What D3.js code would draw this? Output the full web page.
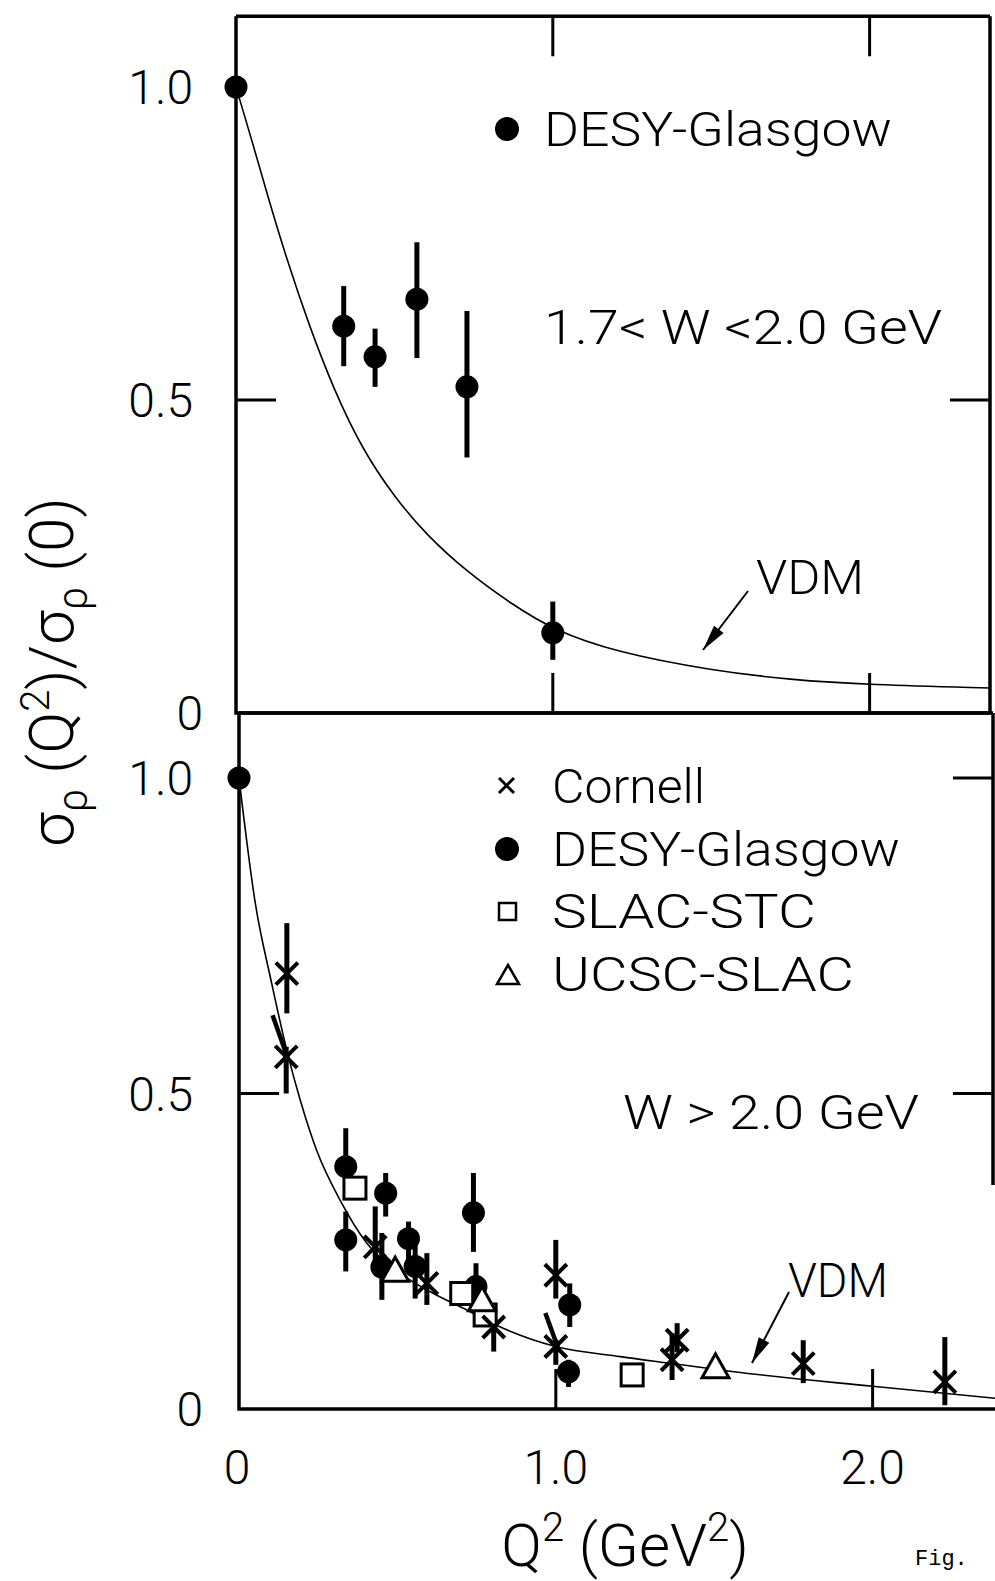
<!DOCTYPE html>
<html>
<head>
<meta charset="utf-8">
<script src="https://cdn.jsdelivr.net/npm/d3@7/dist/d3.min.js"></script>
<style>
  html, body { margin: 0; padding: 0; background: #fff; }
  svg text { font-family: "Roboto", "DejaVu Sans", sans-serif; font-weight: 300; fill: #000; }
</style>
</head>
<body>
<svg id="fig" width="995" height="1581"></svg>
<script>
// ---------- data ----------
// Upper panel: 1.7 < W < 2.0 GeV, DESY-Glasgow  [Q2, ratio, low, high]
const topDesy = [
  [0.00, 1.000, null, null],
  [0.340, 0.618, 0.554, 0.682],
  [0.439, 0.569, 0.521, 0.614],
  [0.571, 0.661, 0.567, 0.752],
  [0.729, 0.521, 0.408, 0.642],
  [1.000, 0.128, 0.085, 0.178]
];
// VDM prediction, upper panel  [Q2, ratio]
const topVdm = [
  [0.00, 1.000], [0.05, 0.915], [0.10, 0.826], [0.16, 0.725], [0.23, 0.620],
  [0.31, 0.515], [0.40, 0.420], [0.50, 0.345], [0.60, 0.285], [0.73, 0.225],
  [0.87, 0.174], [1.00, 0.133], [1.20, 0.097], [1.50, 0.068], [1.75, 0.053],
  [2.00, 0.045], [2.38, 0.040]
];

// Lower panel: W > 2.0 GeV
const cornell = [
  [0.151, 0.690, 0.627, 0.770],
  [0.149, 0.558, 0.500, 0.574],
  [0.430, 0.257, 0.215, 0.321],
  [0.593, 0.199, 0.165, 0.247],
  [0.804, 0.130, 0.091, 0.157],
  [1.000, 0.212, 0.175, 0.268],
  [1.000, 0.099, 0.070, 0.110],
  [1.367, 0.078, 0.046, 0.120],
  [1.383, 0.109, 0.090, 0.136],
  [1.781, 0.072, 0.041, 0.109],
  [2.228, 0.043, 0.006, 0.114]
];
// slanted error bars on two Cornell points  [[Q2a, ra], [Q2b, rb]]
const cornellSlant = [
  [[0.106, 0.624], [0.156, 0.553]],
  [[0.967, 0.152], [1.009, 0.094]]
];
const desy = [
  [0.000, 1.000, null, null],
  [0.337, 0.384, 0.350, 0.445],
  [0.337, 0.268, 0.218, 0.313],
  [0.463, 0.342, 0.305, 0.374],
  [0.451, 0.225, 0.173, 0.279],
  [0.535, 0.270, 0.225, 0.297],
  [0.556, 0.226, 0.175, 0.260],
  [0.740, 0.311, 0.249, 0.374],
  [0.748, 0.194, 0.160, 0.231],
  [1.044, 0.165, 0.130, 0.199],
  [1.040, 0.059, 0.035, 0.078]
];
const slacStc = [
  [0.366, 0.350], [0.703, 0.183], [0.777, 0.149], [1.241, 0.054]
];
const ucscSlac = [
  [0.493, 0.220], [0.767, 0.173], [1.504, 0.067]
];
const bottomVdm = [
  [0.000, 1.000], [0.051, 0.803], [0.103, 0.675], [0.156, 0.558], [0.193, 0.490],
  [0.245, 0.410], [0.319, 0.331], [0.403, 0.263], [0.509, 0.215], [0.614, 0.183],
  [0.719, 0.157], [0.825, 0.130], [1.000, 0.099], [1.204, 0.083], [1.367, 0.072],
  [1.562, 0.059], [2.000, 0.036], [2.389, 0.017]
];

const xTicks = [0, 1, 2];
const xTickLabels = ["0", "1.0", "2.0"];
const yTicks = [0, 0.5, 1];
const yTickLabels = ["0", "0.5", "1.0"];

// ---------- layout ----------
const svg = d3.select("#fig");
svg.append("rect").attr("width", 995).attr("height", 1581).attr("fill", "#fff");

const xTop = d3.scaleLinear().domain([0, 2.38]).range([236, 990]);
const yTop = d3.scaleLinear().domain([0, 1]).range([713, 87]);
const xBot = d3.scaleLinear().domain([0, 2.38]).range([239, 993]);
const yBot = d3.scaleLinear().domain([0, 1]).range([1409, 778]);

const frameW = 3.5, tickLen = 40;

function frame(g, x, y, yMax, rightBottom) {
  const x0 = x(0), x1 = x.range()[1], y0 = y(0), y1 = y(yMax);
  g.append("path").attr("d", `M${x0},${y1}L${x1},${y1}`).attr("stroke", "#000").attr("stroke-width", frameW);
  g.append("path").attr("d", `M${x0},${y1}L${x0},${y0}L${x1 + 2},${y0}`).attr("stroke", "#000").attr("stroke-width", frameW).attr("fill", "none");
  g.append("path").attr("d", `M${x1},${y1}L${x1},${rightBottom}`).attr("stroke", "#000").attr("stroke-width", frameW);
}

const gTop = svg.append("g");
const gBot = svg.append("g");

frame(gTop, xTop, yTop, 1.113, yTop(0));
frame(gBot, xBot, yBot, 1.103, 1185);

// inward ticks
function ticks(g, x, y, yMax, spec) {
  const line = (x1, y1, x2, y2) => g.append("line").attr("x1", x1).attr("y1", y1).attr("x2", x2).attr("y2", y2)
    .attr("stroke", "#000").attr("stroke-width", 3);
  spec.left.forEach(v => line(x(0), y(v), x(0) + tickLen, y(v)));
  spec.right.forEach(v => line(x.range()[1], y(v), x.range()[1] - tickLen, y(v)));
  spec.top.forEach(v => line(x(v), y(yMax), x(v), y(yMax) + tickLen));
  spec.bottom.forEach(v => line(x(v), y(0), x(v), y(0) - tickLen));
}
ticks(gTop, xTop, yTop, 1.113, { left: [0.5], right: [0.5], top: [1, 2], bottom: [1, 2] });
ticks(gBot, xBot, yBot, 1.103, { left: [0.5], right: [1, 0.5], top: [], bottom: [1, 2] });

// tick labels
function yLabels(y, xEnd) {
  yTicks.forEach((v, i) => {
    svg.append("text").attr("x", v === 0 ? xEnd + 10 : xEnd).attr("y", y(v) + 17)
      .attr("text-anchor", "end").attr("font-size", 48).text(yTickLabels[i]);
  });
}
yLabels(yTop, 193);
yLabels(yBot, 193);
xTicks.forEach((v, i) => {
  svg.append("text").attr("x", xBot(v) + (v === 0 ? -2 : 0)).attr("y", 1484)
    .attr("text-anchor", "middle").attr("font-size", 48).text(xTickLabels[i]);
});

// VDM curves
const lineTop = d3.line().x(d => xTop(d[0])).y(d => yTop(d[1])).curve(d3.curveBasis);
const lineBot = d3.line().x(d => xBot(d[0])).y(d => yBot(d[1])).curve(d3.curveMonotoneX);
gTop.append("path").attr("d", lineTop(topVdm)).attr("fill", "none").attr("stroke", "#000").attr("stroke-width", 1.6);
gBot.append("path").attr("d", lineBot(bottomVdm)).attr("fill", "none").attr("stroke", "#000").attr("stroke-width", 1.6);

// markers
function errorBars(g, data, x, y) {
  g.selectAll(null).data(data.filter(d => d[2] !== null)).join("line")
    .attr("x1", d => x(d[0])).attr("x2", d => x(d[0]))
    .attr("y1", d => y(d[2])).attr("y2", d => y(d[3]))
    .attr("stroke", "#000").attr("stroke-width", 5);
}
function dots(g, data, x, y, r = 11.5) {
  g.selectAll(null).data(data).join("circle")
    .attr("cx", d => x(d[0])).attr("cy", d => y(d[1])).attr("r", r).attr("fill", "#000");
}
function crosses(g, data, x, y, s = 11, w = 4) {
  data.forEach(d => {
    const cx = x(d[0]), cy = y(d[1]);
    g.append("path").attr("d", `M${cx - s},${cy - s}L${cx + s},${cy + s}M${cx - s},${cy + s}L${cx + s},${cy - s}`)
      .attr("stroke", "#000").attr("stroke-width", w).attr("fill", "none");
  });
}
function squares(g, data, x, y, s = 22) {
  g.selectAll(null).data(data).join("rect")
    .attr("x", d => x(d[0]) - s / 2).attr("y", d => y(d[1]) - s / 2)
    .attr("width", s).attr("height", s)
    .attr("fill", "#fff").attr("stroke", "#000").attr("stroke-width", 3);
}
function triangles(g, data, x, y, w = 27, h = 22) {
  data.forEach(d => {
    const cx = x(d[0]), cy = y(d[1]);
    g.append("path").attr("d", `M${cx},${cy - h / 2 - 2}L${cx + w / 2},${cy + h / 2}L${cx - w / 2},${cy + h / 2}Z`)
      .attr("fill", "#fff").attr("stroke", "#000").attr("stroke-width", 3).attr("stroke-linejoin", "miter");
  });
}

errorBars(gTop, topDesy, xTop, yTop);
dots(gTop, topDesy, xTop, yTop);

errorBars(gBot, cornell, xBot, yBot);
errorBars(gBot, desy, xBot, yBot);
cornellSlant.forEach(s => {
  gBot.append("line").attr("x1", xBot(s[0][0])).attr("y1", yBot(s[0][1]))
    .attr("x2", xBot(s[1][0])).attr("y2", yBot(s[1][1]))
    .attr("stroke", "#000").attr("stroke-width", 4.5);
});
dots(gBot, desy, xBot, yBot);
squares(gBot, slacStc, xBot, yBot);
triangles(gBot, ucscSlac, xBot, yBot);
crosses(gBot, cornell, xBot, yBot);

// ---------- legends and annotations ----------
function label(x, y, str, len, size = 48) {
  const t = svg.append("text").attr("x", x).attr("y", y).attr("font-size", size).text(str);
  if (len) t.attr("textLength", len).attr("lengthAdjust", "spacingAndGlyphs");
  return t;
}
// upper panel
svg.append("circle").attr("cx", 507).attr("cy", 129).attr("r", 12).attr("fill", "#000");
label(544, 146, "DESY-Glasgow", 348);
label(544, 344, "1.7< W <2.0 GeV", 398);
label(756, 594, "VDM", 108);

// lower panel legend
const legRows = [
  { y: 786, text: "Cornell", len: 153 },
  { y: 849, text: "DESY-Glasgow", len: 348 },
  { y: 911, text: "SLAC-STC", len: 264 },
  { y: 974, text: "UCSC-SLAC", len: 302 }
];
legRows.forEach(r => label(552, r.y + 17, r.text, r.len));
svg.append("path").attr("d", "M499,778L514,793M499,793L514,778").attr("stroke", "#000").attr("stroke-width", 3);
svg.append("circle").attr("cx", 507).attr("cy", 849).attr("r", 12).attr("fill", "#000");
svg.append("rect").attr("x", 499).attr("y", 903).attr("width", 17).attr("height", 17).attr("fill", "none").attr("stroke", "#000").attr("stroke-width", 2.5);
svg.append("path").attr("d", "M508,965L519,984L497,984Z").attr("fill", "none").attr("stroke", "#000").attr("stroke-width", 2.5);

label(623, 1129, "W > 2.0 GeV", 296);
label(788, 1297, "VDM", 100);

// arrows pointing to the VDM curves
function arrow(x1, y1, x2, y2) {
  svg.append("line").attr("x1", x1).attr("y1", y1).attr("x2", x2).attr("y2", y2)
    .attr("stroke", "#000").attr("stroke-width", 2);
  const a = Math.atan2(y2 - y1, x2 - x1), L = 26, W = 6;
  const bx = x2 - L * Math.cos(a), by = y2 - L * Math.sin(a);
  const px = -Math.sin(a) * W, py = Math.cos(a) * W;
  svg.append("path").attr("d", `M${x2},${y2}L${bx + px},${by + py}L${bx - px},${by - py}Z`).attr("fill", "#000");
}
arrow(748, 591, 703, 650);
arrow(789, 1292, 752, 1363);

// axis titles
const yTitle = svg.append("text").attr("transform", "translate(73,672) rotate(-90)")
  .attr("text-anchor", "middle").attr("font-size", 62);
yTitle.append("tspan").text("σ");
yTitle.append("tspan").attr("font-size", 42).attr("dy", 14).text("ρ");
yTitle.append("tspan").attr("dy", -14).text(" (Q");
yTitle.append("tspan").attr("font-size", 40).attr("dy", -24).text("2");
yTitle.append("tspan").attr("dy", 24).text(")/σ");
yTitle.append("tspan").attr("font-size", 42).attr("dy", 14).text("ρ");
yTitle.append("tspan").attr("dy", -14).text(" (0)");

const xTitle = svg.append("text").attr("x", 625).attr("y", 1566).attr("text-anchor", "middle").attr("font-size", 60);
xTitle.append("tspan").text("Q");
xTitle.append("tspan").attr("font-size", 40).attr("dy", -25).text("2");
xTitle.append("tspan").attr("dy", 25).text(" (GeV");
xTitle.append("tspan").attr("font-size", 40).attr("dy", -25).text("2");
xTitle.append("tspan").attr("dy", 25).text(")");

svg.append("text").attr("x", 915).attr("y", 1565)
  .style("font-family", "'Liberation Mono', monospace").style("font-weight", 400).attr("font-size", 22).text("Fig.");
</script>
</body>
</html>
